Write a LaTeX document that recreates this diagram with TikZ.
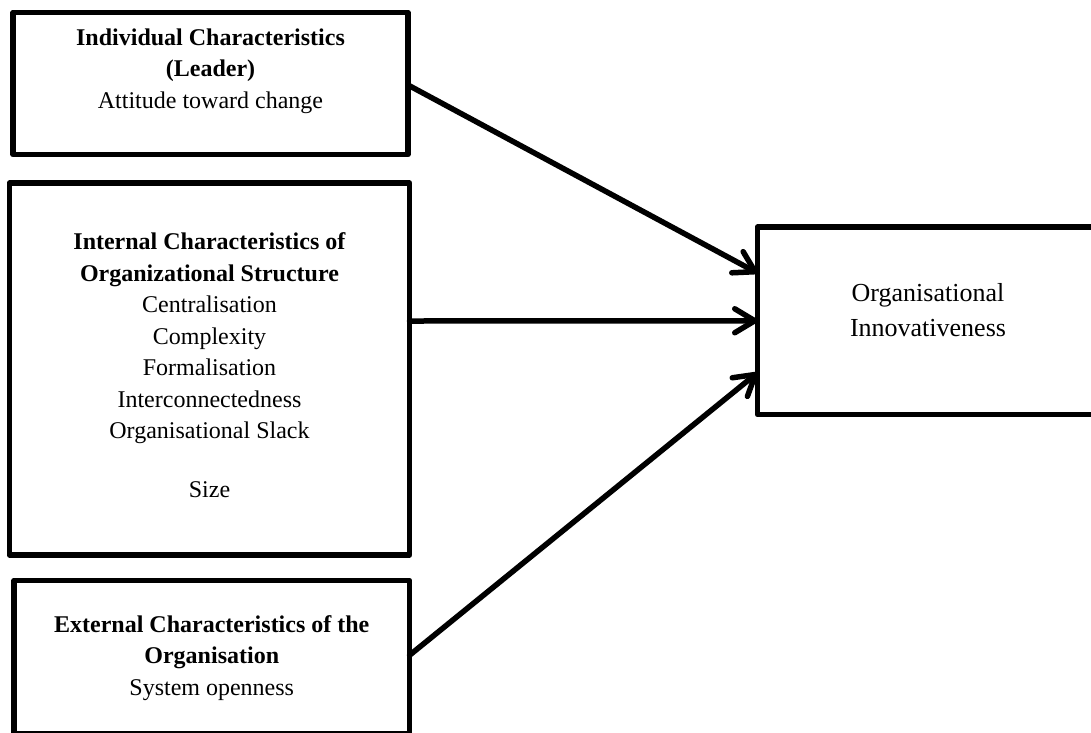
\documentclass[tikz,border=0pt]{standalone}
\usepackage{fontspec}
\setmainfont{Liberation Serif}
\usetikzlibrary{arrows.meta}

\begin{document}
\begin{tikzpicture}[x=1pt,y=-1pt,
    factorbox/.style={draw, line width=5.5pt, line join=round, rectangle,
      inner sep=0pt, outer sep=0pt},
    leftlabel/.style={anchor=north, align=center, inner sep=0pt,
      font=\fontsize{24}{31.5}\selectfont},
    rightlabel/.style={anchor=north, align=center, inner sep=0pt,
      font=\fontsize{26}{35}\selectfont},
    link/.style={line width=5.5pt, line cap=round,
      -{Straight Barb[length=20pt,width=24pt,round]}}]

  \useasboundingbox (0,0) rectangle (1091,732);
  \clip (0,0) rectangle (1091,732);

  % boxes
  \node[factorbox, minimum width=395pt, minimum height=142pt]
    (b1) at (210.5,83.5) {};
  \node[factorbox, minimum width=400pt, minimum height=372pt]
    (b2) at (209.5,369) {};
  \node[factorbox, minimum width=395.5pt, minimum height=153.5pt]
    (b3) at (211.75,657.25) {};
  \node[factorbox, minimum width=341pt, minimum height=187.5pt]
    (b4) at (928,320.75) {};

  % texts
  \node[leftlabel] (t1) at (210.5,22.95)
    {\strut\textbf{Individual Characteristics}\\
     \textbf{(Leader)}\\
     Attitude toward change};
  \node[leftlabel] (t2) at (209.5,227.25)
    {\strut\textbf{Internal Characteristics of}\\
     \textbf{Organizational Structure}\\
     Centralisation\\
     Complexity\\
     Formalisation\\
     Interconnectedness\\
     Organisational Slack\\[27.5pt]
     Size};
  \node[leftlabel] (t3) at (211.75,610)
    {\strut\textbf{External Characteristics of the}\\
     \textbf{Organisation}\\
     System openness};
  \node[rightlabel] (t4) at (928,276.5)
    {\strut Organisational\\
     Innovativeness};

  % connectors
  \draw[link] ([yshift=-1.5pt]b1.east) -- ([yshift=47.75pt]b4.west);
  \draw[link] ([yshift=48pt]b2.east) -- (b4.west);
  \draw[link] ([yshift=2pt]b3.east) -- ([yshift=-52pt]b4.west);
\end{tikzpicture}
\end{document}
